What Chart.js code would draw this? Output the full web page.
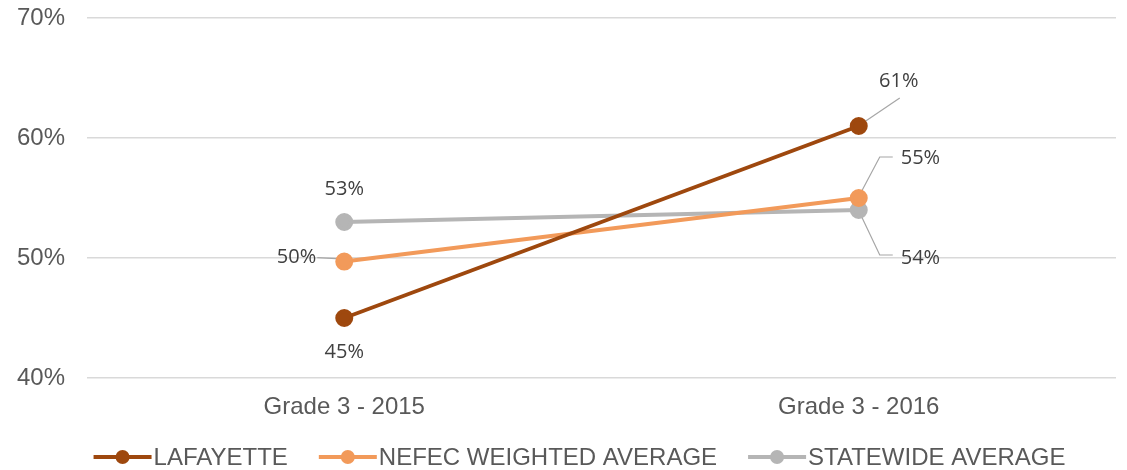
<!DOCTYPE html>
<html>
<head>
<meta charset="utf-8">
<script src="https://cdn.jsdelivr.net/npm/chart.js@4.4.0/dist/chart.umd.min.js"></script>
<style>
  html, body { margin: 0; padding: 0; background: #fff; overflow: hidden; }
  #wrap { width: 1127px; height: 470px; }
</style>
</head>
<body>
<div id="wrap"><canvas id="gradeChart"></canvas></div>
<script>
// data
const categories = ["Grade 3 - 2015", "Grade 3 - 2016"];
const seriesNames = ["LAFAYETTE", "NEFEC WEIGHTED AVERAGE", "STATEWIDE AVERAGE"];
const lafayette = [45, 61];
const nefec = [49.7, 55];
const statewide = [53, 54];
const yTicks = [40, 50, 60, 70];

const colors = ["#9E480E", "#F29A5A", "#B5B5B5"];

// where each data label sits relative to its point: [dx, dy, align, leader path]
const labelSpots = [
  [[0, 34, "center", null], [40, -45, "center", [[7, -5], [41, -28]]]],
  [[-28, -4, "right", [[-8, -3], [-27, -4]]], [42, -40, "left", [[3, -7], [21, -41], [34, -41]]]],
  [[0, -33, "center", null], [42, 48, "left", [[3, 7], [21, 45], [34, 45]]]],
];

const dataLabels = {
  id: "dataLabels",
  beforeDatasetsDraw(chart) {
    const ctx = chart.ctx;
    ctx.save();
    ctx.strokeStyle = "#A6A6A6";
    ctx.lineWidth = 1.2;
    chart.data.datasets.forEach((ds, i) => {
      chart.getDatasetMeta(i).data.forEach((pt, j) => {
        const path = labelSpots[i][j][3];
        if (!path) return;
        ctx.beginPath();
        path.forEach(([dx, dy], k) => {
          if (k === 0) ctx.moveTo(pt.x + dx, pt.y + dy);
          else ctx.lineTo(pt.x + dx, pt.y + dy);
        });
        ctx.stroke();
      });
    });
    ctx.restore();
  },
  afterDatasetsDraw(chart) {
    const ctx = chart.ctx;
    ctx.save();
    ctx.font = "20px 'Open Sans'";
    ctx.fillStyle = "#404040";
    ctx.textBaseline = "middle";
    chart.data.datasets.forEach((ds, i) => {
      chart.getDatasetMeta(i).data.forEach((pt, j) => {
        const [dx, dy, align] = labelSpots[i][j];
        ctx.textAlign = align;
        ctx.fillText(Math.round(ds.data[j]) + "%", pt.x + dx, pt.y + dy);
      });
    });
    ctx.restore();
  },
};

// legend drawn by hand: line + dot marker, then text
const lineLegend = {
  id: "lineLegend",
  afterDraw(chart) {
    const ctx = chart.ctx;
    const markW = 58, gapText = 2, gapItem = 31;
    ctx.save();
    ctx.font = "24px 'Liberation Sans', Arial";
    ctx.textBaseline = "middle";
    const items = chart.data.datasets.map((d) => ({
      text: d.label,
      color: d.borderColor,
      w: markW + gapText + ctx.measureText(d.label).width,
    }));
    const total = items.reduce((s, it) => s + it.w, 0) + gapItem * (items.length - 1);
    let x = chart.width / 2 + 16 - total / 2;
    const y = 457;
    items.forEach((it) => {
      ctx.strokeStyle = it.color;
      ctx.lineWidth = 4;
      ctx.beginPath();
      ctx.moveTo(x, y);
      ctx.lineTo(x + markW, y);
      ctx.stroke();
      ctx.fillStyle = it.color;
      ctx.beginPath();
      ctx.arc(x + markW / 2, y, 7, 0, Math.PI * 2);
      ctx.fill();
      ctx.fillStyle = "#595959";
      ctx.textAlign = "left";
      ctx.fillText(it.text, x + markW + gapText, y + 1);
      x += it.w + gapItem;
    });
    ctx.restore();
  },
};

const datasets = [lafayette, nefec, statewide].map((values, i) => ({
  label: seriesNames[i],
  data: values,
  borderColor: colors[i],
  backgroundColor: colors[i],
  pointBackgroundColor: colors[i],
  pointBorderColor: colors[i],
  borderWidth: 4,
  pointRadius: 7,
  pointHoverRadius: 7,
  tension: 0,
}));

function noScalePadding(scale) {
  scale.paddingTop = 0;
  scale.paddingBottom = 0;
  scale.paddingLeft = 0;
  scale.paddingRight = 0;
}

const ctx = document.getElementById("gradeChart").getContext("2d");

new Chart(ctx, {
  type: "line",
  data: { labels: categories, datasets: datasets },
  plugins: [dataLabels, lineLegend],
  options: {
    responsive: true,
    maintainAspectRatio: false,
    animation: false,
    layout: { padding: { top: 18, right: -8, left: 0, bottom: 46 } },
    plugins: {
      tooltip: { enabled: false },
      legend: { display: false },
    },
    scales: {
      x: {
        offset: true,
        grid: { display: false },
        border: { display: false },
        ticks: {
          color: "#595959",
          font: { family: "'Liberation Sans', Arial", size: 24 },
          padding: 7,
        },
        afterFit(scale) {
          scale.height = 46;
          noScalePadding(scale);
        },
      },
      y: {
        min: 40,
        max: 70,
        afterBuildTicks(scale) {
          scale.ticks = yTicks.map((v) => ({ value: v }));
        },
        grid: { color: "#D9D9D9", lineWidth: 1.5, drawTicks: false },
        border: { display: false },
        ticks: {
          color: "#595959",
          font: { family: "'Liberation Sans', Arial", size: 24 },
          padding: 22,
          callback: (v) => v + "%",
        },
        afterFit(scale) {
          scale.width = 87;
          noScalePadding(scale);
        },
      },
    },
  },
});
</script>
</body>
</html>
